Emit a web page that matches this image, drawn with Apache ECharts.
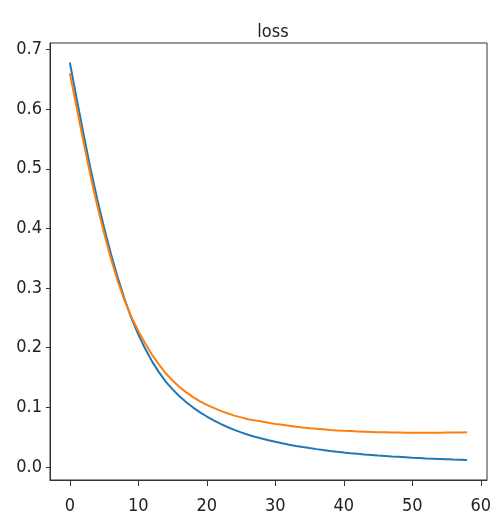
<!DOCTYPE html>
<html>
<head>
<meta charset="utf-8">
<script src="https://cdn.jsdelivr.net/npm/echarts@6/dist/echarts.min.js"></script>
<style>
html,body{margin:0;padding:0;background:#fff;}
#chart{width:495px;height:515px;}
</style>
</head>
<body>
<div id="chart"></div>
<script>
var title = 'loss';
var epochs = [];
for (var i = 0; i <= 58; i++) epochs.push(i);
var trainLoss = [0.678,0.617,0.558,0.501,0.449,0.401,0.357,0.317,0.281,0.249,
  0.222,0.198,0.177,0.159,0.143,0.130,0.1185,0.1085,0.0995,0.0915,
  0.0845,0.0780,0.0722,0.0669,0.0621,0.0578,0.0540,0.0506,0.0476,0.0448,
  0.0421,0.0396,0.0373,0.0352,0.0333,0.0315,0.0298,0.0282,0.0267,0.0253,
  0.0240,0.0229,0.0219,0.0209,0.0200,0.0191,0.0183,0.0175,0.0168,0.0161,
  0.0154,0.0148,0.0142,0.0137,0.0132,0.0127,0.0122,0.0118,0.0114];
var valLoss = [0.660,0.602,0.545,0.489,0.438,0.392,0.349,0.311,0.279,0.251,
  0.228,0.207,0.188,0.172,0.157,0.145,0.134,0.125,0.117,0.110,
  0.104,0.099,0.094,0.090,0.086,0.083,0.080,0.078,0.076,0.074,
  0.072,0.0705,0.069,0.0675,0.066,0.065,0.064,0.063,0.062,0.0612,
  0.0605,0.060,0.0595,0.059,0.0585,0.058,0.058,0.0577,0.0575,0.0573,
  0.0572,0.0572,0.0572,0.0573,0.0574,0.0575,0.0576,0.0578,0.058];
var xTicks = [0,10,20,30,40,50,60];
var yTicks = [0.0,0.1,0.2,0.3,0.4,0.5,0.6,0.7];

function pairs(ys){ return epochs.map(function(x,i){ return [x, ys[i]]; }); }

var font = "'DejaVu Sans Condensed','Liberation Sans Narrow','DejaVu Sans',sans-serif";
var chart = echarts.init(document.getElementById('chart'), null, {renderer:'canvas'});
chart.setOption({
  animation:false,
  backgroundColor:'#ffffff',
  title:{text:title, left:268, textAlign:'center', top:18,
    textStyle:{fontFamily:font, fontSize:18, fontWeight:'normal', color:'#222'}},
  grid:{left:50, top:43, width:437, height:437, show:true, borderColor:'#333', borderWidth:1, backgroundColor:'transparent'},
  xAxis:{type:'value', min:-2.9, max:60.9, splitLine:{show:false},
    axisLine:{show:true, onZero:false, lineStyle:{color:'#333', width:1}},
    axisTick:{show:true, length:6, inside:false, customValues:xTicks, lineStyle:{color:'#333'}},
    axisLabel:{customValues:xTicks, margin:17, fontFamily:font, fontSize:18, color:'#222',
      formatter:function(v){return String(v);}}},
  yAxis:{type:'value', min:-0.022, max:0.711, splitLine:{show:false},
    axisLine:{show:true, onZero:false, lineStyle:{color:'#333', width:1}},
    axisTick:{show:true, length:4, inside:false, customValues:yTicks, lineStyle:{color:'#333'}},
    axisLabel:{customValues:yTicks, margin:8, fontFamily:font, fontSize:18, color:'#222',
      formatter:function(v){return v.toFixed(1);}}},
  series:[
    {type:'line', data:pairs(trainLoss), showSymbol:false, smooth:false,
      lineStyle:{color:'#1f77b4', width:2}, itemStyle:{color:'#1f77b4'}, z:2},
    {type:'line', data:pairs(valLoss), showSymbol:false, smooth:false,
      lineStyle:{color:'#ff7f0e', width:2}, itemStyle:{color:'#ff7f0e'}, z:3}
  ]
});
</script>
</body>
</html>
